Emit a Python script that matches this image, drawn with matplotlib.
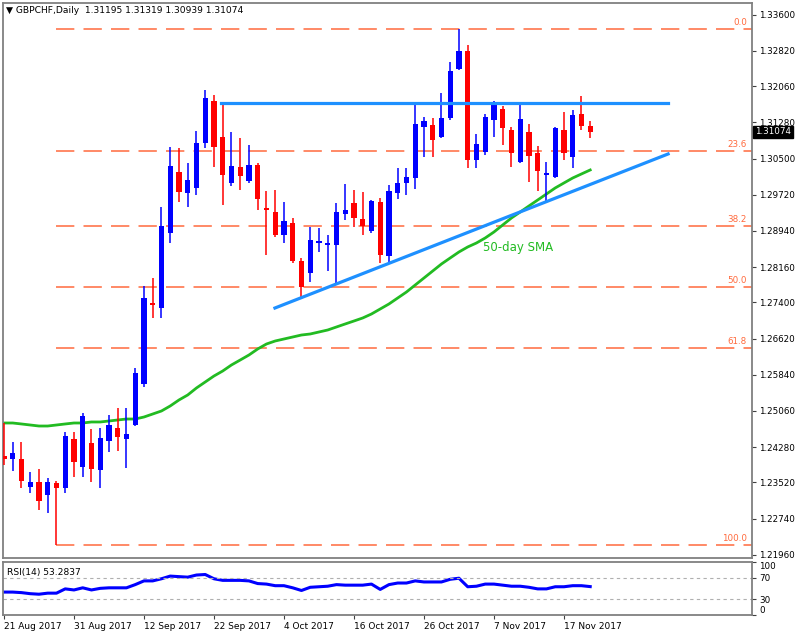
import numpy as np
import matplotlib.pyplot as plt
from matplotlib.transforms import blended_transform_factory

# GBPCHF daily candles (21 Aug 2017 - 22 Nov 2017)
opens = [1.24089, 1.24024, 1.24024, 1.23420, 1.23528, 1.23248, 1.23506, 1.23399, 1.24455, 1.23851,
         1.24369, 1.23787, 1.24412, 1.24692, 1.24455, 1.24757, 1.25641, 1.27387, 1.27280, 1.28897,
         1.30212, 1.29759, 1.29867, 1.30837, 1.31742, 1.30966, 1.29975, 1.30319, 1.30018, 1.30363,
         1.29436, 1.29349, 1.28853, 1.29112, 1.28293, 1.28034, 1.28681, 1.28638, 1.28638, 1.29306,
         1.29543, 1.29198, 1.28940, 1.29565, 1.28401, 1.29759, 1.29975, 1.30082, 1.31182, 1.31225,
         1.30966, 1.31376, 1.32432, 1.32820, 1.30470, 1.30643, 1.31333, 1.31570, 1.31117, 1.30427,
         1.31074, 1.30621, 1.30147, 1.30104, 1.31117, 1.30535, 1.31462, 1.31195]
highs = [1.24800, 1.24383, 1.24383, 1.23744, 1.23808, 1.23614, 1.23550, 1.24606, 1.24606, 1.25016,
         1.24671, 1.24692, 1.24973, 1.25124, 1.25124, 1.25986, 1.27754, 1.27926, 1.29457, 1.30751,
         1.30729, 1.30406, 1.31096, 1.31980, 1.31872, 1.31656, 1.31074, 1.30945, 1.30794, 1.30406,
         1.29802, 1.29824, 1.29565, 1.29220, 1.28358, 1.29026, 1.29004, 1.28853, 1.29543, 1.29953,
         1.29824, 1.29780, 1.29608, 1.29651, 1.29931, 1.30298, 1.30298, 1.31656, 1.31397, 1.31376,
         1.31915, 1.32583, 1.33295, 1.32950, 1.31031, 1.31462, 1.31742, 1.31635, 1.31182, 1.31678,
         1.31247, 1.30772, 1.30427, 1.31182, 1.31505, 1.31548, 1.31850, 1.31319]
lows = [1.23895, 1.23765, 1.23399, 1.23291, 1.22924, 1.22860, 1.22170, 1.23291, 1.23636, 1.23636,
        1.23528, 1.23399, 1.24175, 1.24196, 1.23830, 1.24735, 1.25576, 1.27064, 1.27064, 1.28681,
        1.29565, 1.29457, 1.29716, 1.30729, 1.30319, 1.29500, 1.29910, 1.29824, 1.29975, 1.29392,
        1.28422, 1.28810, 1.28681, 1.28250, 1.27495, 1.27840, 1.28487, 1.28077, 1.27775, 1.29177,
        1.29026, 1.28853, 1.28897, 1.28250, 1.28271, 1.29630, 1.29716, 1.29845, 1.30535, 1.30535,
        1.30945, 1.31333, 1.32411, 1.30298, 1.30298, 1.30578, 1.30966, 1.30794, 1.30319, 1.30406,
        1.29996, 1.29802, 1.29543, 1.30082, 1.30470, 1.30298, 1.31117, 1.30939]
closes = [1.24024, 1.24153, 1.23550, 1.23528, 1.23118, 1.23528, 1.23399, 1.24520, 1.23959, 1.24951,
          1.23808, 1.24477, 1.24757, 1.24498, 1.24563, 1.25878, 1.27495, 1.27344, 1.29047, 1.30341,
          1.29780, 1.30039, 1.30837, 1.31807, 1.30751, 1.30147, 1.30341, 1.30125, 1.30363, 1.29630,
          1.29392, 1.28853, 1.29155, 1.28293, 1.27732, 1.28746, 1.28724, 1.28681, 1.29349, 1.29392,
          1.29220, 1.29047, 1.29586, 1.28422, 1.29802, 1.29975, 1.30104, 1.31247, 1.31311, 1.30902,
          1.31376, 1.32389, 1.32820, 1.30470, 1.30815, 1.31397, 1.31656, 1.31160, 1.30621, 1.31354,
          1.30557, 1.30233, 1.30190, 1.31160, 1.30621, 1.31441, 1.31203, 1.31074]

sma50 = [1.24800, 1.24800, 1.24779, 1.24757, 1.24735, 1.24735, 1.24757, 1.24779, 1.24800, 1.24800,
         1.24822, 1.24822, 1.24843, 1.24865, 1.24886, 1.24886, 1.24929, 1.24994, 1.25059, 1.25167,
         1.25296, 1.25404, 1.25555, 1.25684, 1.25813, 1.25921, 1.26051, 1.26158, 1.26266, 1.26396,
         1.26503, 1.26568, 1.26611, 1.26654, 1.26697, 1.26719, 1.26762, 1.26805, 1.26870, 1.26935,
         1.26999, 1.27064, 1.27150, 1.27258, 1.27366, 1.27495, 1.27624, 1.27775, 1.27926, 1.28077,
         1.28228, 1.28358, 1.28487, 1.28595, 1.28681, 1.28789, 1.28918, 1.29069, 1.29220, 1.29349,
         1.29479, 1.29608, 1.29737, 1.29867, 1.29975, 1.30082, 1.30169, 1.30255]

rsi14 = [43, 43, 42, 40, 39, 41, 41, 49, 47, 51,
         47, 50, 51, 51, 51, 57, 64, 64, 68, 73,
         72, 71, 75, 76, 68, 65, 65, 65, 64, 59,
         58, 55, 55, 51, 46, 52, 53, 54, 57, 56,
         56, 56, 58, 48, 57, 60, 60, 64, 62, 62,
         62, 67, 69, 53, 54, 58, 58, 56, 54, 54,
         52, 49, 49, 53, 53, 55, 55, 53.28]

date_ticks = [0, 8, 16, 24, 32, 40, 48, 56, 64]
date_labels = ['21 Aug 2017', '31 Aug 2017', '12 Sep 2017', '22 Sep 2017', '4 Oct 2017',
               '16 Oct 2017', '26 Oct 2017', '7 Nov 2017', '17 Nov 2017']
price_ticks = [1.33600, 1.32820, 1.32060, 1.31280, 1.30500, 1.29720, 1.28940, 1.28160,
               1.27400, 1.26620, 1.25840, 1.25060, 1.24280, 1.23520, 1.22740, 1.21960]

fib_levels = [0.0, 23.6, 38.2, 50.0, 61.8, 100.0]
fib_high = 1.33295
fib_low = 1.22170
fib_start = 6

resist_x = [24.8, 75.9]
resist_y = [1.31689, 1.31689]
trend_x = [30.97, 75.9]
trend_y = [1.27279, 1.30600]

UP = '#0000FF'
DOWN = '#FF0000'
FIB = '#FF6A3D'
FRAME = '#808080'

plt.rcParams['font.family'] = 'DejaVu Sans'
fig = plt.figure(figsize=(8, 6.39), dpi=100)
ax = fig.add_axes([0.00375, 0.12723, 0.93625, 0.8681])
ax2 = fig.add_axes([0.00375, 0.03756, 0.93625, 0.0834])

x = np.arange(len(opens))
o = np.array(opens); c = np.array(closes)
cols = [UP if cc >= oo else DOWN for oo, cc in zip(opens, closes)]

# fibonacci levels
xmax = 85.49
for lv in fib_levels:
    p = fib_high - (fib_high - fib_low) * lv / 100
    ax.plot([fib_start, xmax], [p, p], color=FIB, lw=1.1, ls=(0, (12, 6)), zorder=1)
    ax.text(84.9, p + 0.0004, '%.1f' % lv, color=FIB, fontsize=6.3, ha='right', va='bottom')

# candles
ax.vlines(x, lows, highs, colors=cols, lw=1.1, zorder=3)
body = np.maximum(np.abs(c - o), 0.0003)
ax.bar(x, body, bottom=np.minimum(o, c), width=0.58, color=cols, zorder=4)

# SMA and drawn lines
ax.plot(x, sma50, color='#22BB22', lw=2, zorder=2)
ax.plot(resist_x, resist_y, color='#1E90FF', lw=2.3, zorder=5)
ax.plot(trend_x, trend_y, color='#1E90FF', lw=2.3, zorder=5)
ax.text(54.8, 1.2858, '50-day SMA', color='#22BB22', fontsize=8.5, ha='left', va='center')

ax.set_xlim(-0.11, xmax)
ax.set_ylim(1.21896, 1.33855)
ax.yaxis.tick_right()
ax.set_yticks(price_ticks)
ax.set_yticklabels(['%.5f' % t for t in price_ticks], fontsize=6.3)
ax.tick_params(axis='y', length=3, pad=2, color='#404040')
ax.set_xticks([])
for s in ax.spines.values():
    s.set_color(FRAME); s.set_linewidth(1.3)

ax.text(0.004, 0.994, '\u25BC GBPCHF,Daily  1.31195 1.31319 1.30939 1.31074', transform=ax.transAxes,
        fontsize=6.6, ha='left', va='top')

# last price tag
tr = blended_transform_factory(ax.transAxes, ax.transData)
ax.text(1.004, closes[-1], '%.5f' % closes[-1], transform=tr, color='white', fontsize=6.3,
        ha='left', va='center', clip_on=False,
        bbox=dict(facecolor='black', edgecolor='black', pad=1.2))

# RSI panel
ax2.plot(x, rsi14, color='#0000FF', lw=2.2)
for lv in [70, 30]:
    ax2.axhline(lv, color='#B0B0B0', lw=0.8, ls=(0, (3, 3)))
ax2.set_xlim(-0.11, xmax)
ax2.set_ylim(2, 100)
ax2.yaxis.tick_right()
ax2.set_yticks([100, 70, 30, 0])
ax2.set_yticklabels(['100', '70', '30', '0'], fontsize=6.3)
labs = ax2.get_yticklabels()
labs[0].set_va('top'); labs[3].set_va('bottom')
ax2.tick_params(axis='y', length=3, pad=2, color='#404040')
ax2.set_xticks(date_ticks)
ax2.set_xticklabels(date_labels, fontsize=6.5, ha='left')
ax2.tick_params(axis='x', length=3, pad=2, color='#404040')
for s in ax2.spines.values():
    s.set_color(FRAME); s.set_linewidth(1.3)
ax2.text(0.006, 0.88, 'RSI(14) 53.2837', transform=ax2.transAxes, fontsize=6.6, ha='left', va='top')

fig.savefig('out.png', dpi=100)
